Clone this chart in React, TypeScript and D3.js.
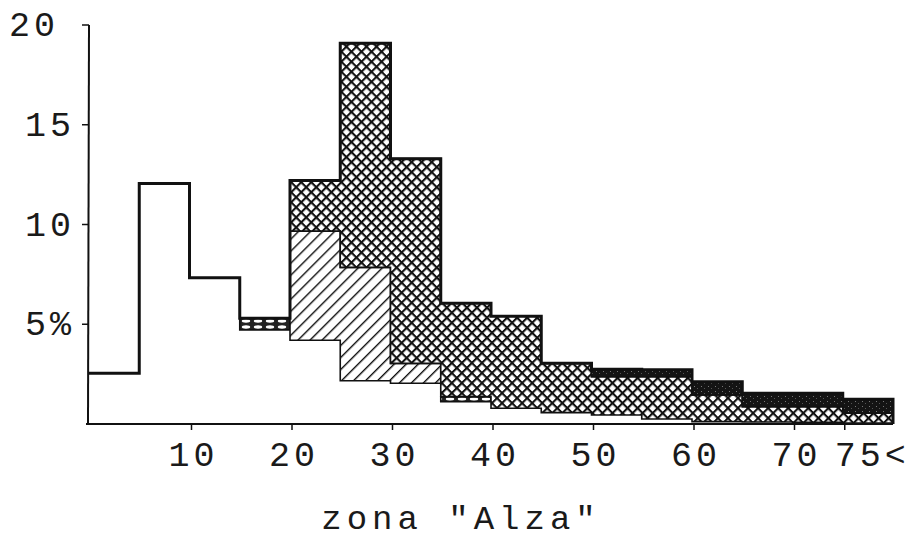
import * as d3 from 'd3'
import { useEffect, useRef } from 'react'

const WIDTH = 911
const HEIGHT = 540

// class starts (width 5), the last class is "75<"
const binStarts = [0, 5, 10, 15, 20, 25, 30, 35, 40, 45, 50, 55, 60, 65, 70, 75]
const binEnd = 80

// stacked parts of each class, in %, bottom to top
const plainPart = [2.54, 12.05, 7.33, 4.72, 4.2, 2.17, 2.04, 1.12, 0.79, 0.57, 0.45, 0.25, 0.12, 0.1, 0.08, 0.05]
const dashedPart = [0, 0, 0, 0.58, 0, 0, 0, 0.25, 0, 0, 0, 0, 0, 0, 0, 0]
const diagonalPart = [0, 0, 0, 0, 5.47, 5.68, 1.0, 0, 0, 0, 0, 0, 0, 0, 0, 0]
const crossPart = [0, 0, 0, 0, 2.53, 11.23, 10.26, 4.68, 4.61, 2.47, 1.92, 2.12, 1.33, 0.77, 0.79, 0.49]
const solidPart = [0, 0, 0, 0, 0, 0, 0, 0, 0, 0, 0.38, 0.35, 0.67, 0.67, 0.67, 0.7]

const xTicks = [10, 20, 30, 40, 50, 60, 70, 75]
const xTickLabels = ['10', '20', '30', '40', '50', '60', '70', '75<']
const yTicks = [5, 10, 15, 20]
const yTickLabels = ['5%', '10', '15', '20']
const xTitle = 'zona "Alza"'

const FONT = "'Liberation Mono', 'Courier New', monospace"

export default function App() {
  const ref = useRef<SVGSVGElement>(null)

  useEffect(() => {
    if (ref.current) drawChart(ref.current)
  }, [])

  return <svg ref={ref} width={WIDTH} height={HEIGHT}
    style={{ position: 'absolute', left: 0, top: 0, background: '#fff' }} />
}

const drawChart = (node: SVGSVGElement) => {
  const svg = d3.select(node)
  svg.selectAll('*').remove()

  const x = d3.scaleLinear().domain([0, binEnd]).range([89, 893])
  const y = d3.scaleLinear().domain([0, 20]).range([424, 25])

  // patterns
  const defs = svg.append('defs')
  const cross = defs.append('pattern').attr('id', 'cross')
    .attr('patternUnits', 'userSpaceOnUse').attr('width', 7.1).attr('height', 7.1)
    .attr('patternTransform', 'rotate(45)')
  cross.append('rect').attr('width', 7.1).attr('height', 7.1).attr('fill', '#fff')
  cross.append('rect').attr('width', 7.1).attr('height', 2.1).attr('fill', '#111')
  cross.append('rect').attr('width', 2.1).attr('height', 7.1).attr('fill', '#111')

  const diag = defs.append('pattern').attr('id', 'diag')
    .attr('patternUnits', 'userSpaceOnUse').attr('width', 8.5).attr('height', 8.5)
    .attr('patternTransform', 'rotate(45)')
  diag.append('rect').attr('width', 8.5).attr('height', 8.5).attr('fill', '#fff')
  diag.append('rect').attr('width', 1.4).attr('height', 8.5).attr('fill', '#111')

  const solid = defs.append('pattern').attr('id', 'solid')
    .attr('patternUnits', 'userSpaceOnUse').attr('width', 7).attr('height', 5)
  solid.append('rect').attr('width', 7).attr('height', 5).attr('fill', '#141414')
  solid.append('rect').attr('x', 1).attr('y', 1).attr('width', 1).attr('height', 1).attr('fill', '#777')
  solid.append('rect').attr('x', 4).attr('y', 3).attr('width', 1).attr('height', 1).attr('fill', '#555')

  const dash = defs.append('pattern').attr('id', 'dash')
    .attr('patternUnits', 'userSpaceOnUse').attr('width', 12).attr('height', 6)
  dash.append('rect').attr('width', 12).attr('height', 6).attr('fill', '#222')
  dash.append('ellipse').attr('cx', 6).attr('cy', 3).attr('rx', 4.2).attr('ry', 1.7).attr('fill', '#fff')

  // stacked layers
  const keys = ['plain', 'dashed', 'diagonal', 'cross', 'solid']
  const fills: Record<string, string> = {
    dashed: 'url(#dash)', diagonal: 'url(#diag)', cross: 'url(#cross)', solid: 'url(#solid)',
  }
  const rows = binStarts.map((b, i) => ({
    start: b,
    plain: plainPart[i],
    dashed: dashedPart[i],
    diagonal: diagonalPart[i],
    cross: crossPart[i],
    solid: solidPart[i],
  }))
  const series = d3.stack<any>().keys(keys)(rows)

  const area = d3.area<any>()
    .x(d => x(d.x))
    .y0(d => y(d.y0))
    .y1(d => y(d.y1))
    .curve(d3.curveStepAfter)

  const gLayers = svg.append('g')
  series.forEach(s => {
    if (s.key === 'plain') return
    // contiguous runs of non-empty classes
    let run: any[] = []
    const flush = (endX: number) => {
      if (!run.length) return
      const last = run[run.length - 1]
      const pts = [...run, { x: endX, y0: last.y0, y1: last.y1 }]
      gLayers.append('path')
        .attr('d', area(pts))
        .attr('fill', fills[s.key])
        .attr('stroke', '#111')
        .attr('stroke-width', 1.6)
        .attr('stroke-linejoin', 'miter')
      run = []
    }
    s.forEach((d, i) => {
      if (d[1] - d[0] > 0) {
        run.push({ x: binStarts[i], y0: d[0], y1: d[1] })
      } else {
        flush(binStarts[i])
      }
    })
    flush(binEnd)
  })

  // outer outline of the totals
  const totals = rows.map((r, i) => ({ x: binStarts[i], v: series[series.length - 1][i][1] }))
  const outlinePts = [...totals, { x: binEnd, v: totals[totals.length - 1].v }]
  const outline = d3.line<any>().x(d => x(d.x)).y(d => y(d.v)).curve(d3.curveStepAfter)
  svg.append('path')
    .attr('d', outline(outlinePts) + `L${x(binEnd)},${y(0)}`)
    .attr('fill', 'none')
    .attr('stroke', '#111')
    .attr('stroke-width', 3)
    .attr('stroke-linejoin', 'miter')

  // y axis
  const gY = svg.append('g')
  gY.append('line')
    .attr('x1', x(0)).attr('x2', x(0) - 1)
    .attr('y1', y(20)).attr('y2', y(0))
    .attr('stroke', '#111').attr('stroke-width', 2)
  gY.selectAll('.ytick').data(yTicks).enter().append('line')
    .attr('x1', x(0) - 7).attr('x2', x(0))
    .attr('y1', d => y(d)).attr('y2', d => y(d))
    .attr('stroke', '#111').attr('stroke-width', 1.5)
  gY.selectAll('.ylabel').data(yTicks).enter().append('text')
    .attr('x', d => d === 20 ? 59 : 75)
    .attr('y', d => y(d) + 11)
    .attr('text-anchor', 'end')
    .style('font-family', FONT)
    .style('font-size', '35px')
    .style('letter-spacing', '4px')
    .style('fill', '#1a1a1a')
    .text((d, i) => yTickLabels[i])

  // x axis
  const gX = svg.append('g')
  gX.append('line')
    .attr('x1', x(0) - 3).attr('x2', x(binEnd))
    .attr('y1', y(0)).attr('y2', y(0))
    .attr('stroke', '#111').attr('stroke-width', 2)
  gX.selectAll('.xtick').data(xTicks).enter().append('line')
    .attr('x1', d => x(d) + 2).attr('x2', d => x(d) + 2)
    .attr('y1', y(0)).attr('y2', y(0) + 6)
    .attr('stroke', '#111').attr('stroke-width', 1.5)
  gX.selectAll('.xlabel').data(xTicks).enter().append('text')
    .attr('x', (d, i) => i === xTicks.length - 1 ? x(d) - 8 : x(d) + 4)
    .attr('y', 466)
    .attr('text-anchor', (d, i) => i === xTicks.length - 1 ? 'start' : 'middle')
    .style('font-family', FONT)
    .style('font-size', '35px')
    .style('letter-spacing', '4px')
    .style('fill', '#1a1a1a')
    .text((d, i) => xTickLabels[i])

  svg.append('text')
    .attr('x', 461)
    .attr('y', 529)
    .attr('text-anchor', 'middle')
    .style('font-family', FONT)
    .style('font-size', '34px')
    .style('letter-spacing', '5px')
    .style('fill', '#1a1a1a')
    .text(xTitle)
}
